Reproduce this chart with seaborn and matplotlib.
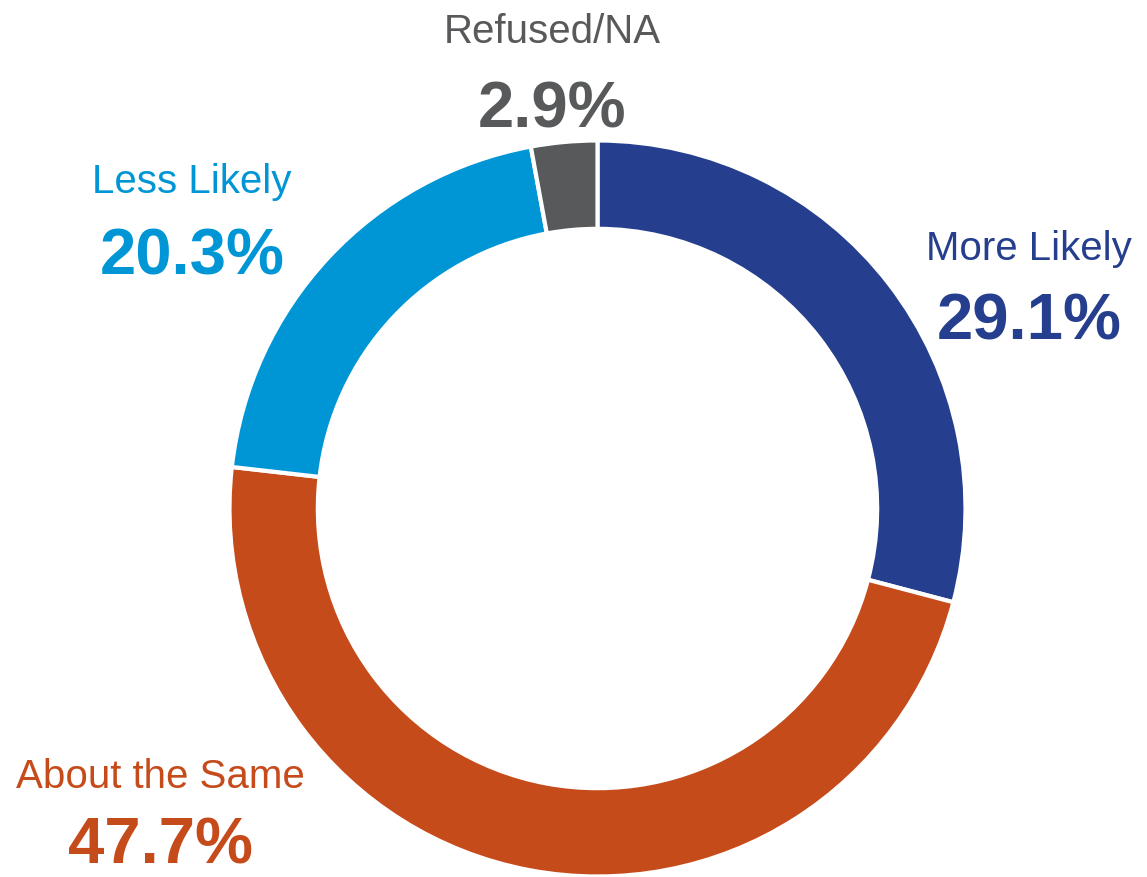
import matplotlib
matplotlib.use("Agg")
import matplotlib.pyplot as plt
from matplotlib import font_manager
import seaborn as sns

# ================================
# Data
# ================================
labels = ["More Likely", "About the Same", "Less Likely", "Refused/NA"]
shares = [29.1, 47.7, 20.3, 2.9]
colors = ["#253F8E", "#C64B1A", "#0096D6", "#58595B"]

# label anchor points (pixels in the 1147x878 canvas: centre x, name baseline, value baseline)
label_pos = [(1029, 260, 340), (160, 788, 864), (192, 193, 275), (552, 43, 128)]

# ================================
# Style
# ================================
sns.set_theme(style="white")
names = {f.name for f in font_manager.fontManager.ttflist}
narrow = "Liberation Sans Narrow" if "Liberation Sans Narrow" in names else "Liberation Sans"
plt.rcParams["font.family"] = [narrow, "DejaVu Sans"]
# no condensed face -> slightly smaller text so widths match
name_size, value_size = (33, 53) if narrow.endswith("Narrow") else (29, 47)

W, H = 1147, 878
fig = plt.figure(figsize=(W / 100, H / 100), dpi=100)
ax = fig.add_axes([0, 0, 1, 1])

# donut geometry (pixels)
cx, cy, R = 597.5, 509.5, 368

ax.pie(shares, colors=colors, startangle=90, counterclock=False,
       radius=1.0, center=(0, 0),
       wedgeprops=dict(width=0.24, edgecolor="white", linewidth=3))

ax.set_xlim(-cx / R, (W - cx) / R)
ax.set_ylim(-(H - cy) / R, cy / R)
ax.set_aspect("auto")
ax.axis("off")


def to_data(px, py):
    return (px - cx) / R, (cy - py) / R


for name, val, col, (px, py1, py2) in zip(labels, shares, colors, label_pos):
    x, y1 = to_data(px, py1)
    _, y2 = to_data(px, py2)
    ax.text(x, y1, name, color=col, fontsize=name_size, ha="center", va="baseline")
    ax.text(x, y2, f"{val:.1f}%", color=col, fontsize=value_size, fontweight="bold",
            ha="center", va="baseline")

fig.savefig("out.png", dpi=100)
